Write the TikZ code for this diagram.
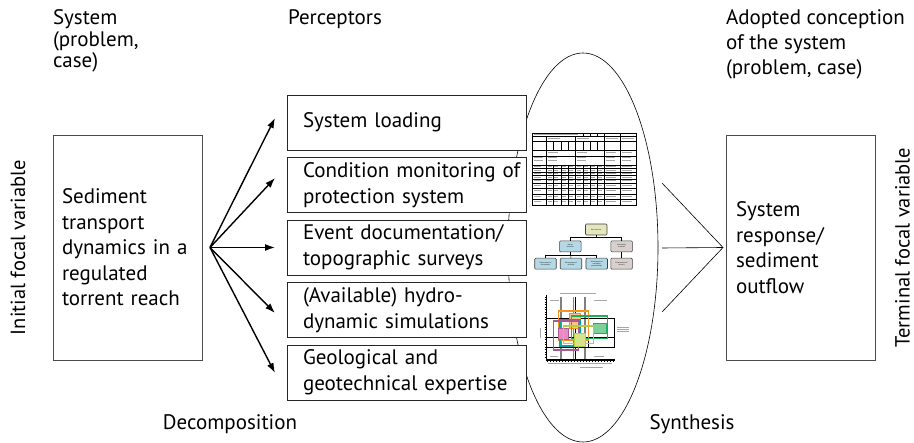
\documentclass[tikz,border=0pt]{standalone}
\usepackage{fontspec}
\setmainfont{PT Sans}
\usetikzlibrary{positioning,shapes.geometric,arrows.meta}
\definecolor{riskfill}{RGB}{228,230,190}
\definecolor{hazfill}{RGB}{180,216,228}
\definecolor{vulfill}{RGB}{216,208,205}
\definecolor{orng}{RGB}{247,148,29}
\definecolor{orngfill}{RGB}{251,195,138}
\definecolor{teal}{RGB}{0,169,157}
\definecolor{grn}{RGB}{31,174,91}
\definecolor{grnfill}{RGB}{127,207,154}
\definecolor{mauve}{RGB}{170,90,145}
\definecolor{pinkfill}{RGB}{232,139,196}
\definecolor{lime}{RGB}{181,207,58}
\definecolor{limefill}{RGB}{215,227,138}

\begin{document}
\begin{tikzpicture}[x=1pt,y=-1pt]
\tikzstyle{every node}=[inner sep=0pt,outer sep=0pt,font=\fontsize{21}{25.5}\selectfont];
\tikzstyle{pbox}=[draw=black!85,line width=0.8pt,fill=white,minimum width=239pt,minimum height=55pt,text width=207pt,inner xsep=16pt,align=left];
\tikzstyle{sbox}=[draw=black!70,line width=0.8pt,minimum width=149pt,minimum height=225pt,align=left];
\tikzstyle{hbox}=[draw=black!75,line width=0.6pt,rounded corners=1pt,minimum width=21.5pt,minimum height=11pt,align=center,font=\fontsize{1.7}{2}\selectfont];
\tikzstyle{arr}=[line width=1.4pt,-{Latex[length=10pt,width=7pt]}];
\tikzstyle{txt}=[fill=black!35];

\useasboundingbox (0,0) rectangle (914,443);

% headings
\node[anchor=north west,align=left,font=\fontsize{21}{21.5}\selectfont] (H1) at (53,10) {System\\(problem,\\case)};
\node[anchor=north west,align=left] (H2) at (288,10) {Perceptors};
\node[anchor=north west,align=left,font=\fontsize{21}{25}\selectfont] (H3) at (726,10) {Adopted conception\\of the system\\(problem, case)};
\node (D) at (230,424) {Decomposition};
\node (Sy) at (692,424) {Synthesis};
\node[rotate=90,font=\fontsize{20.5}{24}\selectfont] (IV) at (18,247.5) {Initial focal variable};
\node[rotate=90,font=\fontsize{20.5}{24}\selectfont] (TV) at (902.5,247.5) {Terminal focal variable};

% synthesis ellipse behind the perceptors
\node[draw,line width=0.6pt,ellipse,minimum width=150pt,minimum height=389pt] (E) at (583,247.5) {};

% system and adopted conception
\node[sbox,text width=131pt,inner xsep=9pt] (S) at (127.5,247.5) {Sediment\\transport\\\mbox{dynamics in a}\\regulated\\\mbox{torrent reach}};
\node[sbox,text width=129pt,inner xsep=10pt] (T) at (800.5,247.5) {System\\response/\\sediment\\outflow};

% perceptors
\node[pbox] (P1) at (406.5,122.5) {System loading};
\node[pbox,below=7.5pt of P1] (P2) {\mbox{Condition monitoring of}\\protection system};
\node[pbox,below=7.5pt of P2] (P3) {\mbox{Event documentation/}\\topographic surveys};
\node[pbox,below=7.5pt of P3] (P4) {(Available) hydro-\\dynamic simulations};
\node[pbox,below=7.5pt of P4] (P5) {Geological and\\\mbox{geotechnical expertise}};

% decomposition
\coordinate (F) at ([xshift=8pt]S.east);
\draw[arr] (F) -- ([shift={(-12,-4.5)}]P1.west);
\draw[arr] (F) -- ([shift={(-12,-7)}]P2.west);
\draw[arr] (F) -- ([shift={(-12,0)}]P3.west);
\draw[arr] (F) -- ([shift={(-12,3)}]P4.west);
\draw[arr] (F) -- ([shift={(-12,0.5)}]P5.west);

% synthesis
\coordinate (R) at ([xshift=-3pt]T.west);
\coordinate (R1) at (662,183);
\coordinate (R2) at (662,248);
\coordinate (R3) at (662,312);
\draw[line width=0.6pt] (R1) -- (R) -- (R3);
\draw[line width=0.6pt] (R2) -- (R);

% table
\draw[line width=0.5pt] (532,133) rectangle (636,205);
\foreach \y in {136.5,141,150.5,156,165,168.5,172,175.5,179,183,188,194,199}
  \draw[line width=0.4pt] (532,\y) -- (636,\y);
\foreach \x in {546.5,575.5,604,620}
  \draw[line width=0.5pt] (\x,136.5) -- (\x,205);
\foreach \x in {553,561,568,583,590,597}
  {\draw[line width=0.3pt] (\x,141) -- (\x,150.5);
   \draw[line width=0.3pt] (\x,165) -- (\x,205);}
\foreach \x in {583,590,597,604,620}
  \draw[line width=0.3pt] (\x,133) -- (\x,136.5);
\fill[txt] (534,134.3) rectangle (578,135.1);
\foreach \x in {548,577,606,622}
  {\fill[txt] (\x,137.8) rectangle ++(12,0.8);
   \fill[txt] (\x,152.5) rectangle ++(10,0.8);}
\foreach \y in {157.5,160} \foreach \x in {533.5,548,577,606,622}
  \fill[txt] (\x,\y) rectangle ++(9,0.7);
\foreach \y in {166.2,169.8,173.3,176.8,180.5,185,190.5,196,201.5}
  {\fill[txt] (533.5,\y) rectangle ++(7,0.7);
   \foreach \x in {547.5,554,562,569,576.5,584,591,598} \fill[txt] (\x,\y) rectangle ++(4,0.7);
   \fill[txt] (605.5,\y) rectangle ++(10,0.7);
   \fill[txt] (621.5,\y) rectangle ++(10,0.7);}

% objectives tree
\node[hbox,fill=riskfill] (RR) at (596.2,229.5) {Risk reduction};
\node[hbox,fill=hazfill] (HR) at (570.3,246.4) {Hazard\\reduction};
\node[hbox,fill=vulfill] (VR) at (621.6,246.4) {Vulnerability\\reduction};
\node[hbox,fill=hazfill] (B1) at (545.5,263.7) {Enhancement of\\functionality};
\node[hbox,fill=hazfill] (B2) at (571,263.7) {Enhancement of\\reliability};
\node[hbox,fill=hazfill] (B3) at (596.7,263.7) {Enhancement of\\availability\\(predictability)};
\node[hbox,fill=vulfill] (B4) at (621.6,263.7) {Enhancement of\\recovery};
\draw[line width=0.5pt] (RR.south) -- ++(0,2.5) -| (HR.north);
\draw[line width=0.5pt] (RR.south) -- ++(0,2.5) -| (VR.north);
\draw[line width=0.5pt] (HR.south) -- ++(0,3) -| (B1.north);
\draw[line width=0.5pt] (HR.south) -- ++(0,3) -| (B3.north);
\draw[line width=0.5pt] (HR.south) -- (B2.north);
\draw[line width=0.5pt] (VR.south) -- (B4.north);

% portfolio chart
\foreach \x in {561,573.3,585}
  \draw[black!50,line width=1.2pt] (\x,297) -- (\x,360);
\draw[line width=0.4pt] (546.7,318) -- (614,318);
\draw[line width=0.4pt] (546.7,337) -- (614,337);
\draw[line width=0.4pt] (588,318) rectangle (614,347);
\draw[line width=0.4pt] (575.5,297) -- (575.5,360);
\draw[line width=0.4pt] (546.7,347) -- (588,347);
\draw[orng,line width=1.1pt] (558.3,311) rectangle (588.3,340);
\draw[orng,fill=orngfill,line width=0.9pt] (569.3,313.3) rectangle (580,328.3);
\draw[teal,line width=1.1pt] (560,319.3) rectangle (580,346);
\draw[grn,line width=1.1pt] (571.7,316) rectangle (607.7,338.3);
\draw[grn,fill=grnfill,line width=0.9pt] (593.3,323.3) rectangle (606.7,333.3);
\draw[mauve,line width=1.1pt] (553.3,321) rectangle (578.3,350);
\draw[mauve,fill=pinkfill,line width=0.9pt] (558.3,328.3) rectangle (568.3,339.3);
\draw[lime,line width=1.1pt] (563.3,326) rectangle (593.3,343.3);
\draw[lime,fill=limefill,line width=0.9pt] (574.3,333.3) rectangle (585,346);
\draw[line width=1.2pt] (546.7,295) -- (546.7,360) -- (615,360);
\foreach \t in {0,...,24}
  \draw[line width=0.3pt] (544.8,297+\t*2.5) -- (546.7,297+\t*2.5);
\foreach \t in {0,...,22}
  \draw[line width=0.3pt] (547+\t*3,360) -- (547+\t*3,362);
\fill[txt] (560,292.6) rectangle (596,293.3);
\fill[txt] (550,300) rectangle (559,300.8);
\fill[txt] (594,300) rectangle (607,300.8);
\fill[txt] (550,356) rectangle (558,356.8);
\fill[txt] (594,356) rectangle (604,356.8);
\fill[txt] (548,363.5) rectangle (612,364.1);
\fill[txt] (580,367) rectangle (603,367.7);
\fill[txt] (540.3,328) rectangle (541,338);
\foreach \y in {327.5,329.5,331.5}
  \fill[txt] (616.5,\y) rectangle ++(12,0.6);
\end{tikzpicture}
\end{document}
